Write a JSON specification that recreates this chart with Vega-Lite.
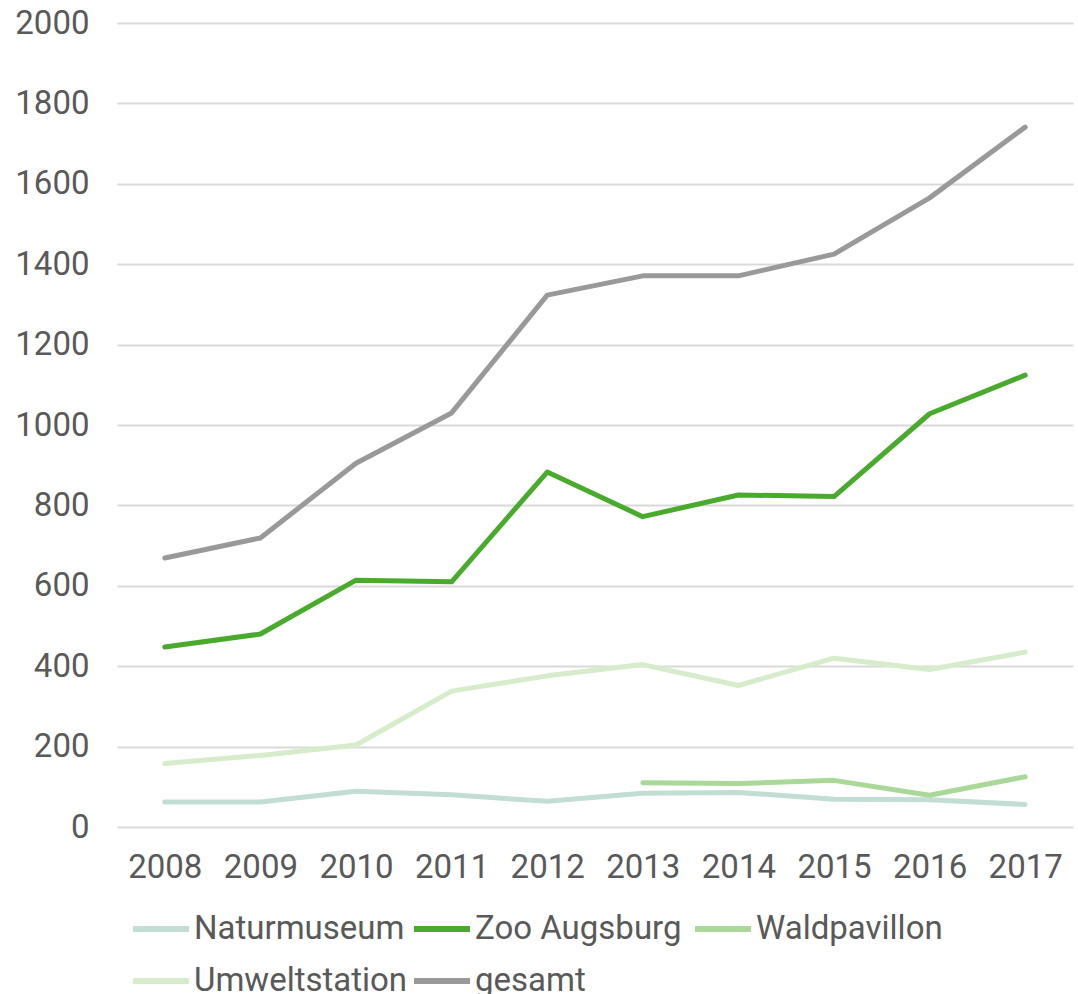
{
  "$schema": "https://vega.github.io/schema/vega-lite/v6.json",
  "autosize": "none",
  "width": 956,
  "height": 804,
  "padding": {"left": 117, "top": 23, "right": 5, "bottom": 167},
  "background": "white",
  "config": {
    "view": {"stroke": null},
    "font": "Roboto",
    "axis": {"labelFont": "Roboto", "labelColor": "#595959", "labelFontSize": 33},
    "legend": {"labelFont": "Roboto", "labelColor": "#595959", "labelFontSize": 33}
  },
  "data": {
    "values": [
      {"Jahr": "2008", "Serie": "Naturmuseum", "Wert": 62},
      {"Jahr": "2009", "Serie": "Naturmuseum", "Wert": 62},
      {"Jahr": "2010", "Serie": "Naturmuseum", "Wert": 89},
      {"Jahr": "2011", "Serie": "Naturmuseum", "Wert": 80},
      {"Jahr": "2012", "Serie": "Naturmuseum", "Wert": 64},
      {"Jahr": "2013", "Serie": "Naturmuseum", "Wert": 84},
      {"Jahr": "2014", "Serie": "Naturmuseum", "Wert": 86},
      {"Jahr": "2015", "Serie": "Naturmuseum", "Wert": 69},
      {"Jahr": "2016", "Serie": "Naturmuseum", "Wert": 68},
      {"Jahr": "2017", "Serie": "Naturmuseum", "Wert": 56},
      {"Jahr": "2008", "Serie": "Zoo Augsburg", "Wert": 448},
      {"Jahr": "2009", "Serie": "Zoo Augsburg", "Wert": 480},
      {"Jahr": "2010", "Serie": "Zoo Augsburg", "Wert": 614},
      {"Jahr": "2011", "Serie": "Zoo Augsburg", "Wert": 610},
      {"Jahr": "2012", "Serie": "Zoo Augsburg", "Wert": 883},
      {"Jahr": "2013", "Serie": "Zoo Augsburg", "Wert": 772},
      {"Jahr": "2014", "Serie": "Zoo Augsburg", "Wert": 826},
      {"Jahr": "2015", "Serie": "Zoo Augsburg", "Wert": 822},
      {"Jahr": "2016", "Serie": "Zoo Augsburg", "Wert": 1028},
      {"Jahr": "2017", "Serie": "Zoo Augsburg", "Wert": 1124},
      {"Jahr": "2013", "Serie": "Waldpavillon", "Wert": 110},
      {"Jahr": "2014", "Serie": "Waldpavillon", "Wert": 108},
      {"Jahr": "2015", "Serie": "Waldpavillon", "Wert": 116},
      {"Jahr": "2016", "Serie": "Waldpavillon", "Wert": 79},
      {"Jahr": "2017", "Serie": "Waldpavillon", "Wert": 125},
      {"Jahr": "2008", "Serie": "Umweltstation", "Wert": 158},
      {"Jahr": "2009", "Serie": "Umweltstation", "Wert": 178},
      {"Jahr": "2010", "Serie": "Umweltstation", "Wert": 204},
      {"Jahr": "2011", "Serie": "Umweltstation", "Wert": 338},
      {"Jahr": "2012", "Serie": "Umweltstation", "Wert": 376},
      {"Jahr": "2013", "Serie": "Umweltstation", "Wert": 404},
      {"Jahr": "2014", "Serie": "Umweltstation", "Wert": 352},
      {"Jahr": "2015", "Serie": "Umweltstation", "Wert": 420},
      {"Jahr": "2016", "Serie": "Umweltstation", "Wert": 392},
      {"Jahr": "2017", "Serie": "Umweltstation", "Wert": 435},
      {"Jahr": "2008", "Serie": "gesamt", "Wert": 669},
      {"Jahr": "2009", "Serie": "gesamt", "Wert": 719},
      {"Jahr": "2010", "Serie": "gesamt", "Wert": 905},
      {"Jahr": "2011", "Serie": "gesamt", "Wert": 1030},
      {"Jahr": "2012", "Serie": "gesamt", "Wert": 1323},
      {"Jahr": "2013", "Serie": "gesamt", "Wert": 1371},
      {"Jahr": "2014", "Serie": "gesamt", "Wert": 1371},
      {"Jahr": "2015", "Serie": "gesamt", "Wert": 1425},
      {"Jahr": "2016", "Serie": "gesamt", "Wert": 1565},
      {"Jahr": "2017", "Serie": "gesamt", "Wert": 1741}
    ]
  },
  "mark": {"type": "line", "strokeWidth": 5, "strokeCap": "round", "strokeJoin": "round"},
  "encoding": {
    "x": {
      "field": "Jahr", "type": "ordinal",
      "scale": {"type": "point", "padding": 0.5},
      "axis": {"title": null, "labelAngle": 0, "ticks": false, "domain": false, "labelPadding": 24, "grid": false}
    },
    "y": {
      "field": "Wert", "type": "quantitative",
      "scale": {"domain": [0, 2000], "nice": false},
      "axis": {"title": null, "format": "d", "values": [0, 200, 400, 600, 800, 1000, 1200, 1400, 1600, 1800, 2000], "ticks": false, "domain": false, "labelPadding": 28, "gridColor": "#d9d9d9", "gridWidth": 2, "labelBaseline": "middle"}
    },
    "color": {
      "field": "Serie", "type": "nominal",
      "scale": {
        "domain": ["Naturmuseum", "Zoo Augsburg", "Waldpavillon", "Umweltstation", "gesamt"],
        "range": ["#c2ddd4", "#4aaa2d", "#a9d898", "#d6ecca", "#999999"]
      },
      "legend": {
        "title": null, "orient": "none", "direction": "horizontal", "legendX": 13, "legendY": 875,
        "columns": 3, "gridAlign": "all", "symbolType": "stroke",
        "symbolSize": 3136, "symbolStrokeWidth": 6, "symbolOffset": 0,
        "labelOffset": 2, "columnPadding": -6, "rowPadding": 4, "labelLimit": 0
      }
    }
  }
}
